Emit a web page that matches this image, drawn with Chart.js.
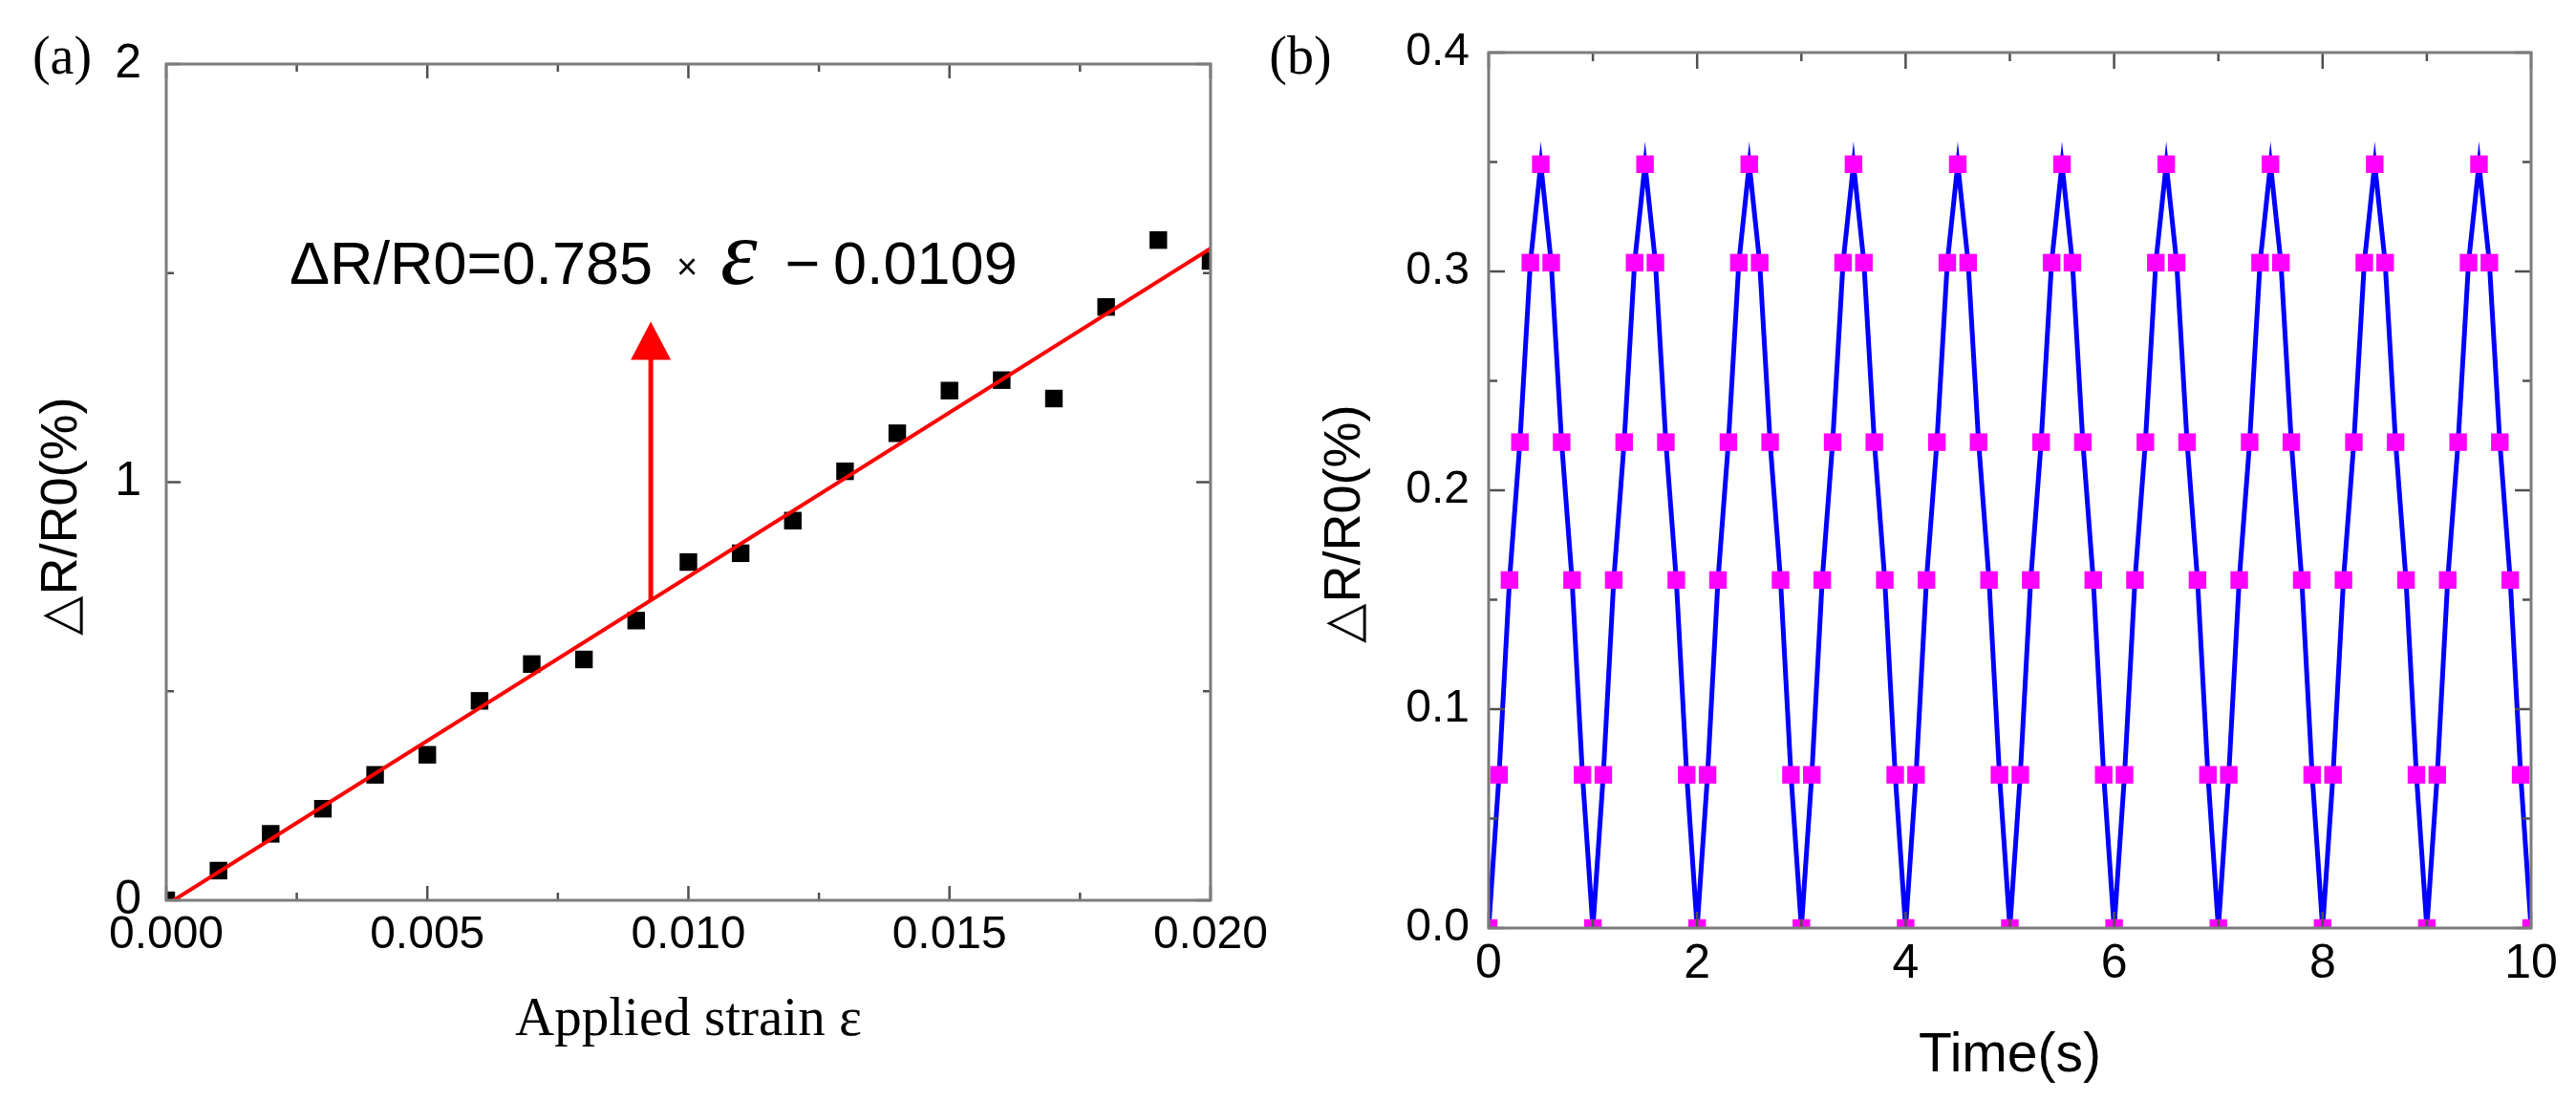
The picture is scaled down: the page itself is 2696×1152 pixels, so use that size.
<!DOCTYPE html>
<html>
<head>
<meta charset="utf-8">
<script src="https://cdn.jsdelivr.net/npm/chart.js@4.4.1/dist/chart.umd.min.js"></script>
<style>
  html, body { margin: 0; padding: 0; background: #fff; }
  body { width: 2696px; height: 1152px; position: relative; overflow: hidden; }
  canvas { position: absolute; top: 0; }
  #chartA { left: 0; }
  #chartB { left: 1300px; }
</style>
</head>
<body>
<canvas id="chartA" width="1340" height="1152"></canvas>
<canvas id="chartB" width="1396" height="1152"></canvas>
<script>
// (a) resistance change against applied strain
var strain = [0.000, 0.001, 0.002, 0.003, 0.004, 0.005, 0.006, 0.007, 0.008, 0.009, 0.010,
              0.011, 0.012, 0.013, 0.014, 0.015, 0.016, 0.017, 0.018, 0.019, 0.020];
var resistance = [0.000, 0.071, 0.159, 0.219, 0.300, 0.348, 0.477, 0.565, 0.576, 0.669, 0.809,
                  0.830, 0.908, 1.026, 1.117, 1.219, 1.244, 1.200, 1.419, 1.579, 1.529];
var fitStrain = [0.000, 0.020];
var fitResistance = [-0.011, 1.559];
var arrowStrain = 0.00928;
var arrowFrom = 0.716;
var arrowTo = 1.384;
var strainTicks = [0.000, 0.005, 0.010, 0.015, 0.020];
var strainMinor = [0.0025, 0.0075, 0.0125, 0.0175];
var resistTicks = [0, 1, 2];
var resistMinor = [0.5, 1.5];

// (b) response over ten loading cycles
var time = [0.0, 0.1, 0.2, 0.3, 0.4, 0.5, 0.6, 0.7, 0.8, 0.9,
            1.0, 1.1, 1.2, 1.3, 1.4, 1.5, 1.6, 1.7, 1.8, 1.9,
            2.0, 2.1, 2.2, 2.3, 2.4, 2.5, 2.6, 2.7, 2.8, 2.9,
            3.0, 3.1, 3.2, 3.3, 3.4, 3.5, 3.6, 3.7, 3.8, 3.9,
            4.0, 4.1, 4.2, 4.3, 4.4, 4.5, 4.6, 4.7, 4.8, 4.9,
            5.0, 5.1, 5.2, 5.3, 5.4, 5.5, 5.6, 5.7, 5.8, 5.9,
            6.0, 6.1, 6.2, 6.3, 6.4, 6.5, 6.6, 6.7, 6.8, 6.9,
            7.0, 7.1, 7.2, 7.3, 7.4, 7.5, 7.6, 7.7, 7.8, 7.9,
            8.0, 8.1, 8.2, 8.3, 8.4, 8.5, 8.6, 8.7, 8.8, 8.9,
            9.0, 9.1, 9.2, 9.3, 9.4, 9.5, 9.6, 9.7, 9.8, 9.9,
            10.0];
var cyclic = [0, 0.070, 0.159, 0.222, 0.304, 0.349, 0.304, 0.222, 0.159, 0.070,
              0, 0.070, 0.159, 0.222, 0.304, 0.349, 0.304, 0.222, 0.159, 0.070,
              0, 0.070, 0.159, 0.222, 0.304, 0.349, 0.304, 0.222, 0.159, 0.070,
              0, 0.070, 0.159, 0.222, 0.304, 0.349, 0.304, 0.222, 0.159, 0.070,
              0, 0.070, 0.159, 0.222, 0.304, 0.349, 0.304, 0.222, 0.159, 0.070,
              0, 0.070, 0.159, 0.222, 0.304, 0.349, 0.304, 0.222, 0.159, 0.070,
              0, 0.070, 0.159, 0.222, 0.304, 0.349, 0.304, 0.222, 0.159, 0.070,
              0, 0.070, 0.159, 0.222, 0.304, 0.349, 0.304, 0.222, 0.159, 0.070,
              0, 0.070, 0.159, 0.222, 0.304, 0.349, 0.304, 0.222, 0.159, 0.070,
              0, 0.070, 0.159, 0.222, 0.304, 0.349, 0.304, 0.222, 0.159, 0.070,
              0];
var timeTicks = [0, 2, 4, 6, 8, 10];
var timeMinor = [1, 3, 5, 7, 9];
var cyclicTicks = [0.0, 0.1, 0.2, 0.3, 0.4];
var cyclicMinor = [0.05, 0.15, 0.25, 0.35];

var SANS = 'Liberation Sans, Arial, sans-serif';
var SERIF = 'Liberation Serif, Times New Roman, serif';

function pts(xs, ys) {
    return xs.map(function (x, i) { return { x: x, y: ys[i] }; });
}

// box round the plot with inward ticks on all four sides
var framePlugin = {
    id: 'frame',
    afterDraw: function (chart, args, o) {
        var ctx = chart.ctx, a = chart.chartArea;
        var xs = chart.scales.x, ys = chart.scales.y;
        ctx.save();
        ctx.strokeStyle = '#505050';
        ctx.lineWidth = 2.5;
        function xt(vals, len) {
            vals.forEach(function (v) {
                var px = xs.getPixelForValue(v);
                ctx.beginPath();
                ctx.moveTo(px, a.bottom); ctx.lineTo(px, a.bottom - len);
                ctx.moveTo(px, a.top); ctx.lineTo(px, a.top + len);
                ctx.stroke();
            });
        }
        function yt(vals, len) {
            vals.forEach(function (v) {
                var py = ys.getPixelForValue(v);
                ctx.beginPath();
                ctx.moveTo(a.left, py); ctx.lineTo(a.left + len, py);
                ctx.moveTo(a.right, py); ctx.lineTo(a.right - len, py);
                ctx.stroke();
            });
        }
        xt(o.xMajor, o.major); xt(o.xMinor, o.minor);
        yt(o.yMajor, o.major); yt(o.yMinor, o.minor);
        ctx.strokeStyle = '#7c7c7c';
        ctx.lineWidth = 3;
        ctx.strokeRect(a.left, a.top, a.right - a.left, a.bottom - a.top);
        ctx.restore();
    }
};

// free text: panel letters, rotated y titles, the fit equation
var notesPlugin = {
    id: 'notes',
    afterDraw: function (chart, args, o) {
        var ctx = chart.ctx;
        o.items.forEach(function (it) {
            ctx.save();
            ctx.fillStyle = it.color || '#000';
            ctx.font = it.font;
            ctx.textAlign = it.align || 'left';
            ctx.textBaseline = it.baseline || 'alphabetic';
            ctx.translate(it.x, it.y);
            if (it.rotate) ctx.rotate(it.rotate);
            ctx.fillText(it.text, 0, 0);
            ctx.restore();
        });
    }
};

// red arrow pointing from the fit line up to the equation
var arrowPlugin = {
    id: 'arrow',
    afterDatasetsDraw: function (chart) {
        var ctx = chart.ctx;
        var px = chart.scales.x.getPixelForValue(arrowStrain);
        var y0 = chart.scales.y.getPixelForValue(arrowFrom);
        var y1 = chart.scales.y.getPixelForValue(arrowTo);
        var head = 40, half = 21;
        ctx.save();
        ctx.strokeStyle = '#ff0000';
        ctx.fillStyle = '#ff0000';
        ctx.lineWidth = 5;
        ctx.beginPath();
        ctx.moveTo(px, y0); ctx.lineTo(px, y1 + head - 2);
        ctx.stroke();
        ctx.beginPath();
        ctx.moveTo(px, y1);
        ctx.lineTo(px - half, y1 + head);
        ctx.lineTo(px + half, y1 + head);
        ctx.closePath();
        ctx.fill();
        ctx.restore();
    }
};

function setTicks(list) {
    return function (s) { s.ticks = list.map(function (v) { return { value: v }; }); };
}

new Chart(document.getElementById('chartA'), {
    type: 'scatter',
    data: {
        datasets: [{
            label: 'fit',
            data: pts(fitStrain, fitResistance),
            showLine: true,
            borderColor: '#ff0000',
            borderWidth: 4,
            pointRadius: 0,
            clip: 0
        }, {
            label: 'measured',
            data: pts(strain, resistance),
            showLine: false,
            pointStyle: 'rect',
            pointRadius: 13,
            pointBackgroundColor: '#000',
            pointBorderWidth: 0,
            clip: 0
        }]
    },
    options: {
        responsive: false,
        animation: false,
        devicePixelRatio: 1,
        events: [],
        layout: { padding: { left: 0, top: 67, right: 67, bottom: 0 } },
        scales: {
            x: {
                type: 'linear', min: 0, max: 0.02,
                afterBuildTicks: setTicks(strainTicks),
                afterFit: function (s) { s.height = 210; },
                grid: { display: false, drawTicks: false },
                border: { display: false },
                ticks: {
                    padding: 13, autoSkip: false, maxRotation: 0, color: '#000',
                    font: { family: SANS, size: 48, lineHeight: 1 },
                    callback: function (v) { return v.toFixed(3); }
                },
                title: {
                    display: true, text: 'Applied strain ε', color: '#000',
                    font: { family: SERIF, size: 57, lineHeight: 1 },
                    padding: { top: 0, bottom: 55 }
                }
            },
            y: {
                type: 'linear', min: 0, max: 2,
                afterBuildTicks: setTicks(resistTicks),
                afterFit: function (s) { s.width = 174; },
                grid: { display: false, drawTicks: false },
                border: { display: false },
                ticks: {
                    padding: 26, color: '#000',
                    font: { family: SANS, size: 50, lineHeight: 1 },
                    callback: function (v) { return String(v); }
                }
            }
        },
        plugins: {
            legend: { display: false },
            tooltip: { enabled: false },
            frame: { xMajor: strainTicks, xMinor: strainMinor, yMajor: resistTicks, yMinor: resistMinor, major: 15, minor: 8 },
            notes: {
                items: [
                    { text: '(a)', x: 65, y: 62, font: '56px ' + SERIF, align: 'center', baseline: 'middle' },
                    { text: '△R/R0(%)', x: 65, y: 540, font: '54px ' + SANS, align: 'center', baseline: 'middle', rotate: -Math.PI / 2 },
                    { text: 'ΔR/R0=0.785', x: 303, y: 297, font: '63px ' + SANS },
                    { text: '×', x: 719, y: 292, font: '38px ' + SANS, align: 'center' },
                    { text: 'ε', x: 754, y: 297, font: 'italic 98px ' + SERIF },
                    { text: '−', x: 840, y: 297, font: '63px ' + SANS, align: 'center' },
                    { text: '0.0109', x: 872, y: 297, font: '63px ' + SANS }
                ]
            }
        }
    },
    plugins: [arrowPlugin, framePlugin, notesPlugin]
});

new Chart(document.getElementById('chartB'), {
    type: 'scatter',
    data: {
        datasets: [{
            label: 'cycles',
            data: pts(time, cyclic),
            showLine: true,
            borderColor: '#0000ff',
            borderWidth: 5,
            pointStyle: 'rect',
            pointRadius: 13,
            pointBackgroundColor: '#ff00ff',
            pointBorderWidth: 0,
            clip: 0
        }]
    },
    options: {
        responsive: false,
        animation: false,
        devicePixelRatio: 1,
        events: [],
        layout: { padding: { left: 0, top: 55, right: 47, bottom: 0 } },
        scales: {
            x: {
                type: 'linear', min: 0, max: 10,
                afterBuildTicks: setTicks(timeTicks),
                afterFit: function (s) { s.height = 181; },
                grid: { display: false, drawTicks: false },
                border: { display: false },
                ticks: {
                    padding: 13, autoSkip: false, maxRotation: 0, color: '#000',
                    font: { family: SANS, size: 50, lineHeight: 1 },
                    callback: function (v) { return String(v); }
                },
                title: {
                    display: true, text: 'Time(s)', color: '#000',
                    font: { family: SANS, size: 57, lineHeight: 1 },
                    padding: { top: 0, bottom: 18 }
                }
            },
            y: {
                type: 'linear', min: 0, max: 0.4,
                afterBuildTicks: setTicks(cyclicTicks),
                afterFit: function (s) { s.width = 258; },
                grid: { display: false, drawTicks: false },
                border: { display: false },
                ticks: {
                    padding: 20, color: '#000',
                    font: { family: SANS, size: 48, lineHeight: 1 },
                    callback: function (v) { return v.toFixed(1); }
                }
            }
        },
        plugins: {
            legend: { display: false },
            tooltip: { enabled: false },
            frame: { xMajor: timeTicks, xMinor: timeMinor, yMajor: cyclicTicks, yMinor: cyclicMinor, major: 17, minor: 9 },
            notes: {
                items: [
                    { text: '(b)', x: 61, y: 62, font: '56px ' + SERIF, align: 'center', baseline: 'middle' },
                    { text: '△R/R0(%)', x: 108, y: 548, font: '54px ' + SANS, align: 'center', baseline: 'middle', rotate: -Math.PI / 2 }
                ]
            }
        }
    },
    plugins: [framePlugin, notesPlugin]
});
</script>
</body>
</html>
